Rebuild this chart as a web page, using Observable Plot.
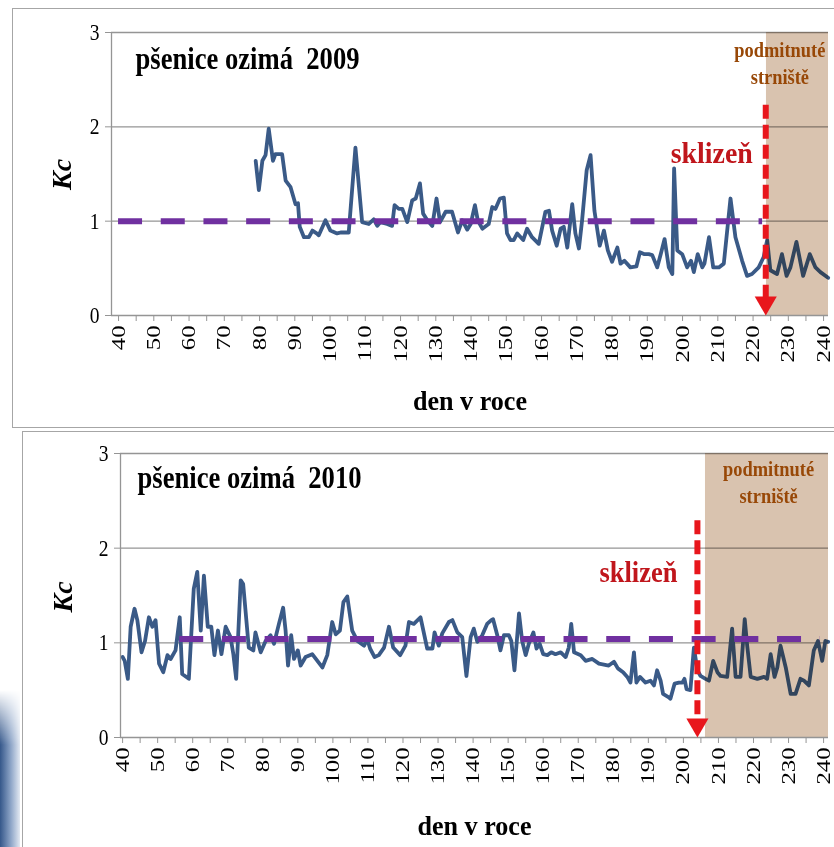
<!DOCTYPE html>
<html><head><meta charset="utf-8">
<script src="https://cdn.jsdelivr.net/npm/d3@7"></script>
<script src="https://cdn.jsdelivr.net/npm/@observablehq/plot@0.6"></script>
<style>
html,body{margin:0;padding:0;background:#fff;}
#wrap{position:relative;width:834px;height:847px;overflow:hidden;background:#fff;}
.frame{position:absolute;border:1px solid #a6a6a6;box-sizing:border-box;}
.chart{position:absolute;}
.chart svg, .chart svg text{font-family:"Liberation Serif","Times New Roman",serif !important;}
#deco{position:absolute;left:0;top:690px;width:20px;height:157px;background:linear-gradient(to right,#35578a,#8fa6c8 55%,#e3e9f2);-webkit-mask-image:linear-gradient(to bottom,transparent,#000 35%);mask-image:linear-gradient(to bottom,transparent,#000 35%);}
</style></head>
<body><div id="wrap">
<div id="deco"></div>
<div class="frame" style="left:12px;top:8px;width:830px;height:420px"></div>
<div class="frame" style="left:22px;top:431px;width:820px;height:430px"></div>
<div class="chart" id="c1" style="left:12px;top:8px"></div>
<div class="chart" id="c2" style="left:22px;top:431px"></div>
</div>
<script>
// ---- data ----
const days2009 = [78.9,79.8,80.8,81.7,82.6,83.8,84.5,86.4,87.4,88.8,90.2,90.9,91.4,92.6,94.0,95.0,96.2,96.8,98.7,100.1,102.0,103.0,105.3,107.2,109.1,111.0,112.4,113.4,114.3,116.2,117.6,118.3,119.5,120.5,121.9,123.3,124.3,125.5,126.4,127.6,129.0,130.2,131.2,132.8,134.6,136.3,137.5,138.9,139.9,141.1,141.9,143.2,145.0,146.0,146.9,148.2,149.3,150.2,151.2,152.1,153.1,154.8,155.9,157.3,159.2,161.1,162.1,163.0,164.3,165.4,166.3,167.3,168.7,169.6,170.6,171.5,172.8,173.9,175.0,176.5,177.7,178.8,180.0,181.5,182.4,183.5,185.2,186.9,187.9,189.2,190.4,191.4,192.8,193.8,194.9,196.1,197.1,197.6,198.5,199.9,201.3,202.4,203.2,204.3,205.6,206.2,207.5,208.7,210.3,211.7,213.6,215.0,216.9,218.3,219.7,221.6,223.0,224.0,224.9,226.8,228.2,229.5,230.6,232.3,234.2,236.1,237.7,239.1,241.3];
const kc2009 = [1.64,1.33,1.64,1.70,1.98,1.64,1.71,1.71,1.43,1.36,1.18,1.19,0.94,0.83,0.83,0.90,0.87,0.85,1.01,0.90,0.87,0.88,0.88,1.78,0.99,0.97,1.02,0.95,0.99,0.97,0.95,1.17,1.13,1.13,0.99,1.22,1.24,1.40,1.08,1.01,0.95,1.24,0.99,1.10,1.10,0.88,1.01,0.91,0.97,1.17,1.01,0.92,0.97,1.15,1.13,1.24,1.25,0.87,0.80,0.80,0.87,0.80,0.92,0.83,0.76,1.10,1.11,0.90,0.74,0.92,0.94,0.72,1.18,0.87,0.71,1.01,1.54,1.70,1.11,0.74,0.90,0.69,0.57,0.72,0.55,0.58,0.51,0.52,0.67,0.65,0.65,0.64,0.51,0.65,0.81,0.51,0.44,1.56,0.69,0.65,0.51,0.58,0.46,0.65,0.51,0.55,0.83,0.51,0.51,0.55,1.24,0.83,0.58,0.42,0.44,0.51,0.62,0.80,0.48,0.44,0.65,0.42,0.51,0.78,0.42,0.65,0.51,0.46,0.40];
const days2010 = [40.0,40.6,41.5,42.3,43.4,44.2,45.4,46.4,47.5,48.5,49.4,50.4,51.6,52.8,53.7,55.1,56.3,57.0,58.9,60.3,61.3,62.3,63.2,64.3,65.3,66.2,67.2,68.2,69.4,70.8,71.6,72.4,73.7,74.4,76.0,77.3,77.9,79.4,80.8,82.2,83.2,84.6,85.8,86.5,87.2,88.1,88.9,90.0,90.8,92.2,94.1,97.0,98.4,99.8,100.8,102.0,103.0,104.1,105.5,107.0,108.9,109.8,110.6,111.9,113.1,114.6,116.0,117.2,119.2,120.7,121.7,123.1,125.0,126.9,128.4,129.0,130.2,131.2,133.1,134.1,135.5,136.9,138.1,139.3,140.2,141.2,142.6,144.0,145.2,145.7,146.9,147.8,148.8,150.2,150.9,151.8,153.1,154.0,155.0,155.9,157.2,158.1,159.0,160.0,161.2,162.3,163.5,165.0,166.4,167.3,168.0,168.8,170.7,172.1,174.0,175.9,178.7,180.2,181.3,182.8,184.0,184.9,185.9,186.6,187.6,189.2,190.6,191.6,192.5,193.5,194.2,195.6,196.3,197.5,198.7,199.7,200.3,200.9,202.0,203.0,204.0,204.9,206.3,207.3,208.5,209.7,210.6,212.5,213.9,214.9,216.3,217.5,218.2,219.2,221.1,223.0,223.9,224.9,226.0,226.8,227.7,229.2,230.6,232.0,233.4,234.4,235.8,237.2,238.4,239.6,240.5,241.3];
const kc2010 = [0.85,0.81,0.62,1.17,1.36,1.24,0.90,1.02,1.27,1.17,1.24,0.78,0.69,0.87,0.83,0.92,1.27,0.67,0.62,1.57,1.75,1.13,1.71,1.17,1.17,0.87,1.13,0.88,1.17,1.06,0.88,0.62,1.66,1.62,0.95,0.92,1.11,0.90,1.02,1.08,0.99,1.20,1.37,1.13,0.76,1.08,0.83,0.92,0.76,0.85,0.88,0.74,0.87,1.22,1.09,1.13,1.43,1.49,1.13,1.02,0.97,1.04,0.94,0.85,0.87,0.95,1.17,0.95,0.87,0.97,1.22,1.20,1.27,0.94,0.94,1.11,0.97,1.10,1.22,1.24,1.11,1.06,0.65,1.06,1.15,1.01,1.08,1.20,1.24,1.25,1.08,0.92,1.08,1.08,1.02,0.71,1.31,1.02,0.87,0.99,1.11,0.94,0.99,0.88,0.87,0.90,0.88,0.90,0.85,0.95,1.20,0.90,0.87,0.81,0.83,0.78,0.76,0.80,0.73,0.69,0.64,0.58,0.90,0.58,0.64,0.58,0.60,0.55,0.71,0.60,0.46,0.43,0.41,0.57,0.58,0.58,0.62,0.51,0.50,0.95,0.71,0.65,0.62,0.60,0.81,0.69,0.65,0.64,1.15,0.64,0.64,1.25,0.97,0.64,0.62,0.64,0.62,0.88,0.64,0.74,0.97,0.74,0.46,0.46,0.62,0.60,0.55,0.92,1.02,0.81,1.02,1.01];

const xTickValues = d3.range(40, 241, 5);   // minor ticks every 5 days, labels every 10
const yTickValues = [0, 1, 2, 3];
const gridValues = [1, 2, 3];

const titles = ["pšenice ozimá\u00a0 2009", "pšenice ozimá\u00a0 2010"];
const xAxisLabel = "den v roce";
const yAxisLabel = "Kc";
const harvestLabel = "sklizeň";
const stubbleLabel = "podmitnuté\nstrniště";

const harvestDay = [223.6, 204.0];
const stubbleStart = [223.8, 206.3];
const targetKc = [1.0, 1.04];
const targetFrom = [40, 56.3];
const targetTo = [222.7, 239.1];
const arrowTopKc = [2.23, 2.29];
const harvestLabelKc = [1.72, 1.74];
const stubbleLabelPos = [[227.6, 2.69], [224.3, 2.71]];

// ---- styles ----
const lineColor = "#3a5a87";
const shadeColor = "#d9c3af";
const purple = "#7030a0";
const red = "#e8161c";
const darkRed = "#c0161c";
const brown = "#984807";
const gray = "#959595";

function makeChart(i, o) {
  const days = i === 0 ? days2009 : days2010;
  const kc = i === 0 ? kc2009 : kc2010;
  const data = days.map((d, j) => ({day: d, kc: kc[j]}));
  const xMax = o.xDomain[1];
  return Plot.plot({
    width: o.width, height: o.height,
    marginLeft: o.ml, marginRight: 6, marginTop: o.mt, marginBottom: o.mb,
    x: {domain: o.xDomain, label: null},
    y: {domain: [0, 3], label: null},
    style: {fontFamily: "Liberation Serif, serif", fontSize: "20px", color: "#000", background: "transparent", overflow: "visible"},
    marks: [
      Plot.ruleY(gridValues, {stroke: gray, strokeWidth: 1.3}),
      Plot.line(data, {x: "day", y: "kc", stroke: lineColor, strokeWidth: 3.8, strokeLinejoin: "round"}),
      Plot.rect([{a: stubbleStart[i], b: xMax}], {x1: "a", x2: "b", y1: 0, y2: 3, fill: shadeColor, mixBlendMode: "multiply", className: "shade"}),
      Plot.ruleX([o.xDomain[0]], {stroke: gray, strokeWidth: 1.3}),
      Plot.ruleY([0], {stroke: gray, strokeWidth: 1.3}),
      Plot.axisY({ticks: yTickValues, tickFormat: d => String(d), tickSize: 6, tickPadding: 6, fontSize: 23, stroke: gray, fill: "#000", label: null, className: "yticks"}),
      Plot.axisX({ticks: xTickValues, tickFormat: d => d % 10 === 0 ? String(d) : "", tickRotate: -90, tickSize: 6, tickPadding: 4, fontSize: 19, stroke: gray, fill: "#000", label: null, className: "xticks"}),
      Plot.ruleY([targetKc[i]], {x1: targetFrom[i], x2: targetTo[i], stroke: purple, strokeWidth: 6, strokeDasharray: "24,18.7"}),
      Plot.ruleX([harvestDay[i]], {y1: arrowTopKc[i], y2: 0.15, stroke: red, strokeWidth: 6, strokeDasharray: "14,6"}),
      Plot.dot([harvestDay[i]], {x: d => d, y: 0, symbol: "triangle", rotate: 180, r: 8.2, fill: red, stroke: "none", dy: -12.7}),
      Plot.text([harvestLabel], {x: harvestDay[i], y: harvestLabelKc[i], text: d => d, textAnchor: "end", dx: o.harvestDx, fill: darkRed, fontWeight: "bold", fontSize: 29, className: "harvest"}),
      Plot.text([stubbleLabel], {x: stubbleLabelPos[i][0], y: stubbleLabelPos[i][1], text: d => d, lineHeight: 1.35, fill: brown, fontWeight: "bold", fontSize: 20, className: "stubble"}),
      Plot.text([titles[i]], {frameAnchor: "top-left", dx: o.titleDx, dy: o.titleDy, text: d => d, textAnchor: "start", fontWeight: "bold", fontSize: 31, className: "title"}),
      Plot.text([yAxisLabel], {frameAnchor: "left", dx: o.kcDx, dy: o.kcDy, rotate: -90, text: d => d, fontStyle: "italic", fontWeight: "bold", fontSize: 28}),
      Plot.text([xAxisLabel], {frameAnchor: "bottom", dy: o.xlabDy, text: d => d, fontWeight: "bold", fontSize: 28, className: "xlab"})
    ]
  });
}

// horizontal squeeze/stretch of texts to mimic the condensed lettering of the original
function adjust(svg, selector, fn) {
  d3.select(svg).selectAll(selector).each(function() {
    if (!this.textContent) return;
    const L = this.getComputedTextLength();
    if (L > 0) {
      this.setAttribute("textLength", fn(L));
      this.setAttribute("lengthAdjust", "spacingAndGlyphs");
    }
  });
}
function finish(svg, o) {
  d3.select(svg).selectAll(".shade").style("mix-blend-mode", "multiply");
  adjust(svg, "g.title text", () => o.titleLen);
  adjust(svg, "g.xlab text", () => 114);
  adjust(svg, "g.harvest text", () => o.harvestLen);
  adjust(svg, "g.stubble tspan", L => L * 0.92);
  adjust(svg, "g.yticks text", L => L * 0.85);
  adjust(svg, "g.xticks text", L => L * 1.3);
}

const o1 = {width: 822, height: 419, ml: 99, mt: 24, mb: 112, xDomain: [38.0, 241.4],
  harvestDx: -13, titleDx: 24, titleDy: 14, kcDx: -49, kcDy: 16, xlabDy: 94, titleLen: 224, harvestLen: 82};
const o2 = {width: 812, height: 416, ml: 98, mt: 22, mb: 110, xDomain: [39.4, 241.4],
  harvestDx: -20, titleDx: 17, titleDy: 12, kcDx: -57, kcDy: 17, xlabDy: 97, titleLen: 224, harvestLen: 78};
const s1 = makeChart(0, o1);
document.getElementById("c1").appendChild(s1);
finish(s1, o1);
const s2 = makeChart(1, o2);
document.getElementById("c2").appendChild(s2);
finish(s2, o2);
</script>
</body></html>
